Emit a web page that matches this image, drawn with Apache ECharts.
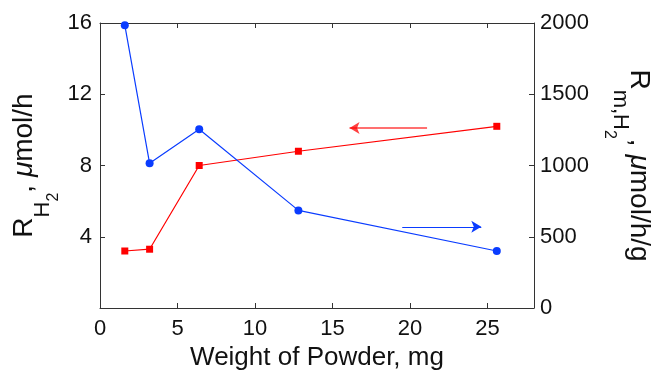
<!DOCTYPE html>
<html>
<head>
<meta charset="utf-8">
<script src="https://cdn.jsdelivr.net/npm/echarts@6.0.0/dist/echarts.min.js"></script>
<style>
  html, body { margin: 0; padding: 0; background: #fff; }
  #chart { width: 651px; height: 374px; }
</style>
</head>
<body>
<div id="chart"></div>
<script>
// Powder weight (mg) for each run
const weights = [1.6, 3.2, 6.4, 12.8, 25.6];
// Hydrogen evolution rate, µmol/h (left axis)
const rateH2 = [3.2, 3.3, 8.0, 8.8, 10.2];
// Mass-normalised rate, µmol/h/g (right axis)
const massRateH2 = [1985, 1015, 1255, 685, 400];

// Axis tick values
const xTicks = [0, 5, 10, 15, 20, 25];
const leftTicks = [4, 8, 12, 16];
const rightTicks = [0, 500, 1000, 1500, 2000];

// Arrows telling which axis each curve belongs to
const leftArrowX = [21.1, 16.1];
const leftArrowY = 10.1;
const rightArrowX = [19.5, 24.6];
const rightArrowY = 570;

const FONT = '"Liberation Sans", Arial, Helvetica, sans-serif';
const AXIS_COLOR = '#333333';
const TEXT_COLOR = '#111111';
const RED = '#ff0000';
const BLUE = '#0a3cff';

// Tokens sit on the bottom of the line; the bottom padding lifts the
// main text so the smaller subscript tokens end up below its baseline.
const titleRich = {
  m: { fontSize: 28, fontFamily: FONT, color: TEXT_COLOR, verticalAlign: 'bottom', padding: [0, 0, 23.5, 0] },
  i: { fontSize: 28, fontFamily: FONT, color: TEXT_COLOR, verticalAlign: 'bottom', padding: [0, 0, 23.5, 0], fontStyle: 'italic' },
  s: { fontSize: 22, fontFamily: FONT, color: TEXT_COLOR, verticalAlign: 'bottom', padding: [0, 0, 8.5, 0] },
  ss: { fontSize: 16, fontFamily: FONT, color: TEXT_COLOR, verticalAlign: 'bottom', padding: [0, 0, 0, 0] }
};

const chart = echarts.init(document.getElementById('chart'), null, { renderer: 'canvas' });

const tickLabel = { fontSize: 22, fontFamily: FONT, color: TEXT_COLOR };

chart.setOption({
  animation: false,
  backgroundColor: '#ffffff',
  grid: { left: 100, right: 117, top: 23, bottom: 66, containLabel: false, outerBoundsMode: 'none' },
  xAxis: [
    {
      type: 'value', min: 0, max: 28, interval: 5, position: 'bottom',
      name: 'Weight of Powder, mg', nameLocation: 'middle', nameGap: 37,
      nameMoveOverlap: false,
      nameTextStyle: { fontSize: 26, fontFamily: FONT, color: TEXT_COLOR },
      axisLine: { show: true, onZero: false, lineStyle: { color: AXIS_COLOR, width: 1 } },
      axisTick: { show: true, inside: true, length: 5, lineStyle: { color: AXIS_COLOR } },
      axisLabel: Object.assign({ margin: 10, showMaxLabel: false,
        formatter: v => (xTicks.indexOf(v) >= 0 ? String(v) : '') }, tickLabel),
      splitLine: { show: false }
    },
    {
      type: 'value', min: 0, max: 28, interval: 5, position: 'top',
      axisLine: { show: true, onZero: false, lineStyle: { color: AXIS_COLOR, width: 1 } },
      axisTick: { show: true, inside: true, length: 5, lineStyle: { color: AXIS_COLOR } },
      axisLabel: { show: false },
      splitLine: { show: false }
    }
  ],
  yAxis: [
    {
      type: 'value', min: 0, max: 16, interval: 4, position: 'left',
      name: '{m|R}{s|H}{ss|2}{m|, }{i|μ}{m|mol/h}',
      nameLocation: 'middle', nameRotate: 90, nameGap: 38,
      nameMoveOverlap: false,
      nameTextStyle: { rich: titleRich },
      axisLine: { show: true, onZero: false, lineStyle: { color: AXIS_COLOR, width: 1 } },
      axisTick: { show: true, inside: true, length: 5, lineStyle: { color: AXIS_COLOR } },
      axisLabel: Object.assign({ margin: 8,
        formatter: v => (leftTicks.indexOf(v) >= 0 ? String(v) : '') }, tickLabel),
      splitLine: { show: false }
    },
    {
      type: 'value', min: 0, max: 2000, interval: 500, position: 'right',
      name: '{m|R}{s|m,H}{ss|2}{m|, }{i|μ}{m|mol/h/g}',
      nameLocation: 'middle', nameRotate: -90, nameGap: 67,
      nameMoveOverlap: false,
      nameTextStyle: { rich: titleRich },
      axisLine: { show: true, onZero: false, lineStyle: { color: AXIS_COLOR, width: 1 } },
      axisTick: { show: true, inside: true, length: 5, lineStyle: { color: AXIS_COLOR } },
      axisLabel: Object.assign({ margin: 6,
        formatter: v => (rightTicks.indexOf(v) >= 0 ? String(v) : '') }, tickLabel),
      splitLine: { show: false }
    }
  ],
  series: [
    {
      name: 'rate',
      type: 'line',
      xAxisIndex: 0, yAxisIndex: 0,
      data: weights.map((w, k) => [w, rateH2[k]]),
      symbol: 'rect', symbolSize: 7,
      lineStyle: { color: RED, width: 1.2 },
      itemStyle: { color: RED },
      markLine: {
        silent: true, animation: false,
        symbol: ['none', 'arrow'], symbolSize: [9, 10],
        label: { show: false },
        lineStyle: { color: RED, width: 1.5, type: 'solid', opacity: 0.75 },
        data: [[
          { coord: [leftArrowX[0], leftArrowY] },
          { coord: [leftArrowX[1], leftArrowY] }
        ]]
      }
    },
    {
      name: 'mass rate',
      type: 'line',
      xAxisIndex: 0, yAxisIndex: 1,
      data: weights.map((w, k) => [w, massRateH2[k]]),
      symbol: 'circle', symbolSize: 8,
      lineStyle: { color: BLUE, width: 1.2 },
      itemStyle: { color: BLUE },
      markLine: {
        silent: true, animation: false,
        symbol: ['none', 'arrow'], symbolSize: [9, 10],
        label: { show: false },
        lineStyle: { color: BLUE, width: 1.2, type: 'solid' },
        data: [[
          { coord: [rightArrowX[0], rightArrowY] },
          { coord: [rightArrowX[1], rightArrowY] }
        ]]
      }
    }
  ]
});
</script>
</body>
</html>
